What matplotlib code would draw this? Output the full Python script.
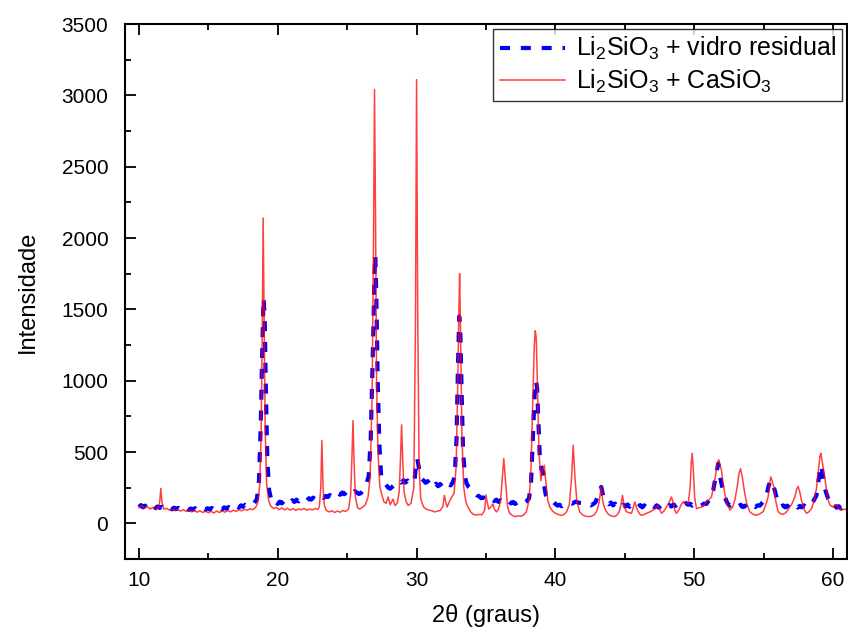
import matplotlib
matplotlib.use("Agg")
import matplotlib.pyplot as plt
from matplotlib.ticker import MultipleLocator

plt.rcParams["font.family"] = ["Liberation Sans", "DejaVu Sans"]
plt.rcParams["mathtext.fontset"] = "custom"
plt.rcParams["mathtext.rm"] = "Liberation Sans"
plt.rcParams["mathtext.it"] = "Liberation Sans"

# Diffractogram: Li2SiO3 + CaSiO3 (2theta, intensity)
casio3_pattern = [
    (10.0, 110), (10.2, 125), (10.4, 105), (10.6, 118), (10.8, 100), (11.0, 112),
    (11.2, 98), (11.4, 108), (11.5, 150), (11.58, 245), (11.66, 150), (11.8, 100),
    (12.0, 105), (12.2, 92), (12.4, 100), (12.6, 88), (12.8, 97), (13.0, 86),
    (13.2, 95), (13.4, 84), (13.6, 92), (13.8, 80), (14.0, 90), (14.2, 78),
    (14.4, 88), (14.6, 76), (14.8, 85), (15.0, 74), (15.2, 84), (15.4, 72),
    (15.6, 86), (15.8, 76), (16.0, 88), (16.2, 78), (16.4, 90), (16.6, 80),
    (16.8, 92), (17.0, 84), (17.2, 95), (17.4, 88), (17.6, 98), (17.8, 92),
    (18.0, 102), (18.2, 96), (18.4, 110), (18.55, 140), (18.7, 260), (18.8, 600),
    (18.88, 1300), (18.95, 2140), (19.02, 1450), (19.1, 650), (19.2, 280),
    (19.35, 160), (19.5, 120),
    (19.7, 104), (19.9, 112), (20.1, 96), (20.3, 108), (20.5, 94), (20.7, 106),
    (20.9, 92), (21.1, 104), (21.3, 90), (21.5, 102), (21.7, 95), (21.9, 105),
    (22.1, 92), (22.3, 100), (22.5, 94), (22.7, 104), (22.9, 98), (23.0, 120),
    (23.1, 250), (23.18, 580), (23.26, 260), (23.35, 130), (23.5, 90), (23.7, 80),
    (23.9, 88), (24.1, 76), (24.3, 86), (24.5, 78), (24.7, 90), (24.9, 84),
    (25.1, 100), (25.25, 200), (25.35, 480), (25.42, 720), (25.5, 420),
    (25.6, 180), (25.75, 110), (25.9, 100), (26.1, 112), (26.3, 130), (26.5, 180),
    (26.65, 320), (26.8, 900), (26.9, 2000), (26.97, 3040), (27.04, 2200),
    (27.12, 1000), (27.22, 500), (27.35, 260), (27.5, 200), (27.65, 150),
    (27.8, 140), (27.95, 185), (28.1, 130), (28.2, 150), (28.3, 170), (28.45, 125),
    (28.6, 140), (28.75, 220), (28.85, 480), (28.92, 690), (29.0, 450),
    (29.1, 220), (29.25, 150), (29.4, 125), (29.6, 140), (29.8, 250),
    (29.92, 1400), (30.0, 3110), (30.08, 1500), (30.18, 400), (30.3, 170),
    (30.5, 115), (30.7, 100), (30.9, 92), (31.1, 88), (31.3, 80), (31.5, 86),
    (31.7, 90), (31.9, 120), (32.0, 196), (32.1, 150), (32.2, 114), (32.35, 150),
    (32.5, 178), (32.7, 210), (32.85, 400), (32.95, 900), (33.05, 1500),
    (33.1, 1750), (33.17, 1300), (33.27, 600), (33.4, 250), (33.55, 150),
    (33.7, 114), (33.9, 80), (34.1, 62), (34.3, 58), (34.5, 62), (34.7, 60),
    (34.9, 90), (35.0, 200), (35.08, 150), (35.2, 100), (35.35, 114), (35.5, 136),
    (35.6, 100), (35.75, 80), (35.9, 100), (36.05, 160), (36.18, 330),
    (36.28, 454), (36.4, 300), (36.55, 120), (36.7, 70), (36.9, 55), (37.1, 47),
    (37.3, 52), (37.5, 50), (37.7, 58), (37.9, 80), (38.1, 160), (38.25, 400),
    (38.38, 900), (38.48, 1250), (38.55, 1350), (38.62, 1300), (38.72, 900),
    (38.82, 500), (38.95, 300), (39.1, 380), (39.2, 407), (39.3, 300),
    (39.45, 160), (39.6, 114), (39.8, 85), (40.0, 70), (40.2, 62), (40.4, 56),
    (40.6, 60), (40.8, 80), (41.0, 130), (41.15, 300), (41.28, 547), (41.4, 330),
    (41.55, 150), (41.75, 80), (42.0, 56), (42.2, 50), (42.4, 47), (42.6, 50),
    (42.8, 60), (43.0, 90), (43.15, 150), (43.3, 259), (43.42, 150), (43.56, 103),
    (43.75, 70), (43.92, 56), (44.1, 50), (44.28, 47), (44.45, 60), (44.6, 82),
    (44.72, 130), (44.83, 196), (44.95, 120), (45.1, 82), (45.3, 75), (45.48, 70),
    (45.6, 110), (45.72, 150), (45.85, 110), (45.96, 82), (46.1, 62), (46.2, 56),
    (46.4, 62), (46.56, 70), (46.8, 80), (47.04, 93), (47.2, 110), (47.4, 124),
    (47.52, 95), (47.64, 70), (47.8, 85), (48.0, 114), (48.2, 150), (48.36, 185),
    (48.5, 140), (48.6, 90), (48.72, 70), (48.9, 95), (49.05, 130), (49.2, 150),
    (49.4, 140), (49.56, 136), (49.7, 250), (49.78, 420), (49.85, 491),
    (49.93, 380), (50.03, 180), (50.16, 103), (50.3, 108), (50.52, 114),
    (50.7, 130), (50.88, 150), (51.05, 165), (51.24, 185), (51.4, 260),
    (51.55, 348), (51.65, 420), (51.77, 446), (51.85, 410), (51.96, 371),
    (52.08, 280), (52.2, 208), (52.35, 140), (52.56, 93), (52.75, 110),
    (52.92, 161), (53.1, 260), (53.22, 350), (53.33, 383), (53.45, 330),
    (53.64, 208), (53.8, 130), (54.0, 82), (54.2, 65), (54.48, 56), (54.7, 65),
    (54.96, 82), (55.15, 130), (55.32, 185), (55.42, 270), (55.51, 325),
    (55.6, 300), (55.73, 255), (55.88, 150), (56.04, 82), (56.2, 68), (56.4, 63),
    (56.6, 75), (56.88, 114), (57.05, 140), (57.24, 185), (57.38, 240),
    (57.48, 259), (57.6, 220), (57.72, 161), (57.9, 100), (58.08, 70),
    (58.25, 80), (58.44, 103), (58.6, 150), (58.8, 243), (58.95, 380),
    (59.05, 470), (59.12, 491), (59.2, 440), (59.3, 380), (59.4, 325),
    (59.52, 230), (59.64, 161), (59.8, 125), (60.0, 114), (60.12, 130),
    (60.24, 124), (60.4, 110), (60.6, 93), (60.8, 100), (61.0, 93),
]

# Diffractogram: Li2SiO3 + residual glass (2theta, intensity)
glass_pattern = [
    (10.0, 115), (10.15, 128), (10.3, 112), (10.45, 124), (10.6, 108), (10.75, 120),
    (10.9, 110), (11.05, 122), (11.2, 106), (11.35, 118), (11.5, 108), (11.65, 116),
    (11.8, 102), (11.95, 114), (12.1, 104), (12.25, 112), (12.4, 98), (12.55, 110),
    (12.7, 100), (12.85, 108), (13.0, 96), (13.15, 106), (13.3, 98), (13.45, 108),
    (13.6, 94), (13.75, 104), (13.9, 96), (14.05, 106), (14.2, 92), (14.35, 102),
    (14.5, 94), (14.65, 104), (14.8, 95), (14.95, 106), (15.1, 97), (15.25, 108),
    (15.4, 96), (15.55, 108), (15.7, 100), (15.85, 110), (16.0, 98), (16.15, 112),
    (16.3, 102), (16.45, 114), (16.6, 104), (16.75, 118), (16.9, 108), (17.05, 120),
    (17.2, 110), (17.35, 126), (17.5, 116), (17.65, 130), (17.8, 122), (17.95, 134),
    (18.1, 128), (18.3, 142), (18.5, 170),
    (18.65, 300), (18.78, 700), (18.88, 1200), (18.98, 1580), (19.06, 1450),
    (19.15, 900), (19.25, 450), (19.38, 230), (19.55, 160), (19.7, 138),
    (19.85, 150), (20.0, 136), (20.15, 152), (20.3, 140), (20.45, 156),
    (20.6, 144), (20.75, 158), (20.9, 146), (21.05, 162), (21.2, 150),
    (21.35, 166), (21.5, 154), (21.65, 168), (21.8, 158), (21.95, 172),
    (22.1, 160), (22.25, 176), (22.4, 166), (22.55, 180), (22.7, 170),
    (22.85, 184), (23.0, 174), (23.15, 188), (23.3, 178), (23.45, 192),
    (23.6, 184), (23.75, 198), (23.9, 188), (24.05, 204), (24.2, 194),
    (24.35, 210), (24.5, 200), (24.65, 216), (24.8, 204), (24.95, 220),
    (25.1, 208), (25.25, 222), (25.4, 212), (25.55, 226), (25.7, 214),
    (25.85, 206), (26.0, 212), (26.2, 240), (26.35, 266),
    (26.55, 330), (26.7, 600), (26.85, 1200), (26.97, 1750), (27.03, 1880),
    (27.1, 1600), (27.2, 1000), (27.32, 550), (27.45, 330), (27.55, 301),
    (27.75, 280), (27.95, 250), (28.1, 243), (28.3, 260), (28.5, 278),
    (28.7, 300), (28.9, 285), (29.05, 302), (29.2, 286), (29.35, 300),
    (29.5, 284), (29.7, 280), (29.85, 300), (29.95, 400), (30.05, 454),
    (30.15, 400), (30.3, 320), (30.5, 301), (30.65, 284), (30.8, 296),
    (30.95, 272), (31.1, 286), (31.25, 262), (31.4, 278), (31.55, 260),
    (31.7, 276), (31.85, 258), (32.0, 274), (32.15, 260), (32.3, 276),
    (32.45, 266), (32.6, 285), (32.75, 330), (32.88, 600),
    (32.98, 1100), (33.07, 1450), (33.15, 1350), (33.25, 900), (33.35, 500),
    (33.48, 330), (33.6, 280), (33.75, 254), (33.9, 240), (34.06, 220),
    (34.2, 212), (34.35, 196), (34.5, 190), (34.65, 176), (34.8, 182),
    (35.0, 168), (35.15, 176), (35.3, 160), (35.45, 170), (35.6, 156),
    (35.75, 166), (35.9, 150), (36.05, 162), (36.2, 150), (36.35, 158),
    (36.5, 144), (36.65, 154), (36.8, 140), (36.95, 150), (37.1, 136),
    (37.25, 146), (37.4, 132), (37.55, 144), (37.7, 138), (37.9, 152),
    (38.1, 175), (38.25, 300), (38.4, 650), (38.5, 900), (38.6, 1000),
    (38.68, 950), (38.78, 700), (38.88, 450), (39.0, 380), (39.1, 360),
    (39.2, 260), (39.3, 200), (39.5, 165), (39.7, 150), (39.85, 150),
    (40.0, 136), (40.15, 124), (40.3, 130), (40.45, 120), (40.6, 134),
    (40.8, 136), (41.0, 146), (41.2, 138), (41.45, 152), (41.7, 144),
    (41.95, 140), (42.15, 130), (42.35, 138), (42.55, 126), (42.75, 136),
    (42.9, 150), (43.05, 196), (43.2, 240), (43.3, 255), (43.42, 200),
    (43.55, 160), (43.68, 150), (43.85, 134), (44.0, 146), (44.15, 126),
    (44.3, 138), (44.45, 118), (44.6, 132), (44.75, 116), (44.9, 130),
    (45.05, 118), (45.2, 132), (45.35, 116), (45.5, 130), (45.65, 118),
    (45.8, 128), (45.95, 114), (46.1, 128), (46.25, 112), (46.4, 126),
    (46.55, 114), (46.7, 126), (46.85, 110), (47.0, 124), (47.15, 112),
    (47.3, 126), (47.45, 110), (47.6, 124), (47.75, 112), (47.9, 126),
    (48.05, 114), (48.2, 128), (48.35, 118), (48.5, 132), (48.65, 122),
    (48.8, 136), (48.96, 126), (49.1, 140), (49.25, 128), (49.4, 142),
    (49.56, 130), (49.7, 138), (49.85, 124), (50.0, 134), (50.16, 120),
    (50.3, 132), (50.5, 124), (50.7, 138), (50.88, 136), (51.1, 170),
    (51.36, 231), (51.55, 330),
    (51.72, 418), (51.82, 380), (51.89, 313), (52.0, 260), (52.13, 208),
    (52.3, 160), (52.45, 132), (52.6, 124), (52.75, 134), (52.9, 118),
    (53.05, 130), (53.2, 120), (53.35, 130), (53.5, 114), (53.65, 124),
    (53.8, 110), (53.95, 122), (54.1, 108), (54.25, 122), (54.4, 114),
    (54.55, 126), (54.72, 124), (54.95, 150), (55.2, 196),
    (55.35, 260), (55.49, 301), (55.62, 280), (55.8, 231), (55.95, 170),
    (56.1, 130), (56.25, 118), (56.4, 126), (56.55, 112), (56.7, 124),
    (56.85, 110), (57.0, 122), (57.15, 112), (57.3, 124), (57.45, 110),
    (57.6, 122), (57.75, 112), (57.9, 126), (58.05, 116), (58.2, 128),
    (58.35, 122), (58.55, 150), (58.8, 196), (58.95, 300),
    (59.1, 407), (59.2, 370), (59.3, 301), (59.45, 230), (59.64, 173),
    (59.8, 140), (59.95, 122), (60.1, 130), (60.25, 110), (60.4, 120),
    (60.55, 104), (60.7, 114), (60.85, 100), (61.0, 106),
]

x_ticks = [10, 20, 30, 40, 50, 60]
y_ticks = [0, 500, 1000, 1500, 2000, 2500, 3000, 3500]

glass_x, glass_y = zip(*glass_pattern)
casio3_x, casio3_y = zip(*casio3_pattern)

fig = plt.figure(figsize=(8.48, 6.32), dpi=100)
ax = fig.add_axes([125 / 848, 1 - 559 / 632, 722 / 848, 535 / 632])

ax.plot(glass_x, glass_y, color="#0000ff", lw=3.0, dashes=(2.4, 2.6),
        label="Li$_2$SiO$_3$ + vidro residual")
ax.plot(casio3_x, casio3_y, color="#ff0000", lw=1.1, alpha=0.75,
        label="Li$_2$SiO$_3$ + CaSiO$_3$")

ax.set_xlim(9, 61)
ax.set_ylim(-250, 3500)
ax.set_xticks(x_ticks)
ax.set_yticks(y_ticks)
ax.xaxis.set_minor_locator(MultipleLocator(5))
ax.yaxis.set_minor_locator(MultipleLocator(250))
ax.tick_params(which="both", direction="in", top=True, right=False,
               labelsize=15, width=1.3)
ax.tick_params(axis="y", pad=12)
ax.tick_params(axis="x", pad=9)
ax.tick_params(which="major", length=8)
ax.tick_params(which="minor", length=4)
for s in ax.spines.values():
    s.set_linewidth(1.5)

ax.set_xlabel("2θ (graus)", fontsize=17, labelpad=10)
ax.set_ylabel("Intensidade", fontsize=17, labelpad=16)

leg = ax.legend(loc="upper right", fontsize=18, frameon=True, fancybox=False,
                handlelength=2.6, borderaxespad=0.2, borderpad=0.25,
                labelspacing=0.2, handletextpad=0.45)
leg.get_frame().set_edgecolor("black")
leg.get_frame().set_linewidth(1.0)

fig.savefig("out.png", dpi=100)
